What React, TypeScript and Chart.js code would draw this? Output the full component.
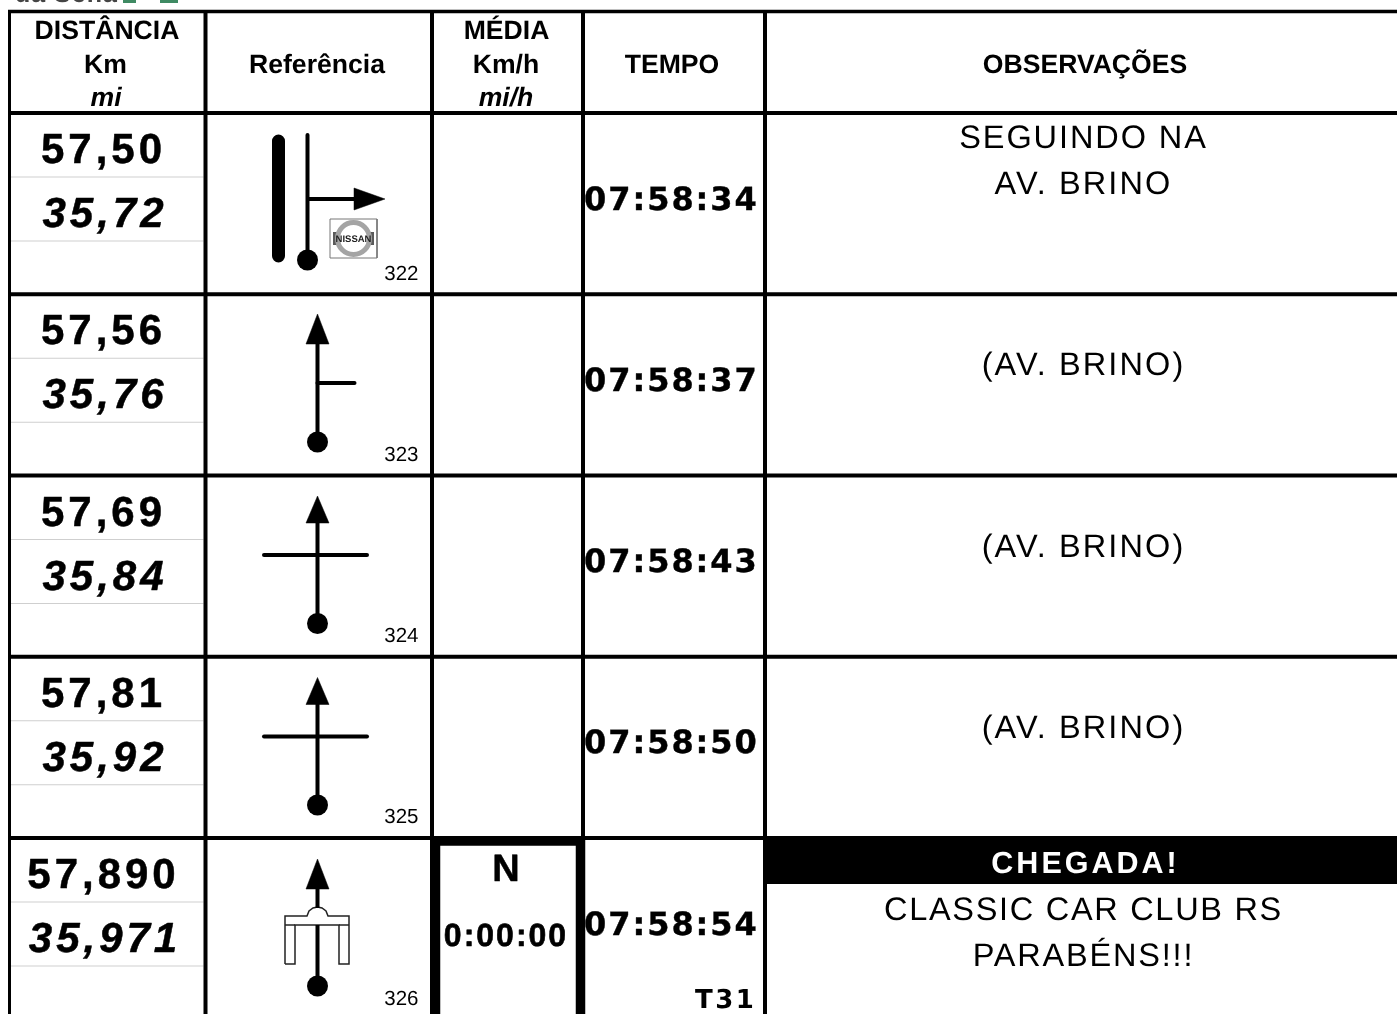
import React, { useEffect, useRef } from "react";
import { Chart, registerables } from "chart.js";

Chart.register(...registerables);

// ---- table content ----
const headerDist = ["DISTÂNCIA", "Km", "mi"];
const headerRef = "Referência";
const headerMedia = ["MÉDIA", "Km/h", "mi/h"];
const headerTempo = "TEMPO";
const headerObs = "OBSERVAÇÕES";
const kmValues = ["57,50", "57,56", "57,69", "57,81", "57,890"];
const miValues = ["35,72", "35,76", "35,84", "35,92", "35,971"];
const timeValues = ["07:58:34", "07:58:37", "07:58:43", "07:58:50", "07:58:54"];
const refCodes = ["322", "323", "324", "325", "326"];
const obsLine1 = ["SEGUINDO NA", "", "", "", "CLASSIC CAR CLUB RS"];
const obsLine2 = ["AV. BRINO", "(AV. BRINO)", "(AV. BRINO)", "(AV. BRINO)", "PARABÉNS!!!"];

// ---- table geometry in axis units ----
const rowTops = [113, 294.25, 475.5, 656.75, 838];
const colLines = [9.5, 205.5, 432, 583, 765];
const subRowLines = [64, 128];

type Pt = [number, number];
const black = "#000";

function seg(points: Pt[], width: number, color = black, opts: any = {}) {
  return {
    type: "scatter",
    data: points.map(([x, y]) => ({ x, y })),
    showLine: true,
    borderColor: color,
    borderWidth: width,
    borderCapStyle: opts.cap ?? "butt",
    borderJoinStyle: "miter",
    backgroundColor: opts.fillColor ?? color,
    fill: opts.fillColor ? "shape" : false,
    pointRadius: 0,
    tension: 0,
    order: opts.order ?? 1,
  };
}
function dot(x: number, y: number, r: number, fillColor = black, line = "transparent", lw = 0) {
  return {
    type: "scatter",
    data: [{ x, y }],
    showLine: false,
    pointStyle: "circle",
    pointRadius: r,
    pointBackgroundColor: fillColor,
    pointBorderColor: line,
    pointBorderWidth: lw,
  };
}
function upArrow(x: number, apex: number, base: number) {
  return seg([[x, apex], [x + 11.5, base], [x - 11.5, base], [x, apex]], 0.5, black, { fillColor: black });
}

function buildDatasets(): any[] {
  const d: any[] = [];
  // black finish band first
  d.push(seg([[765, 860.5], [1397, 860.5]], 47));
  // grid
  d.push(seg([[8, 11.5], [1397, 11.5]], 3.5));
  rowTops.forEach((y) => d.push(seg([[8, y], [1397, y]], 4)));
  colLines.forEach((x, i) => d.push(seg([[x, 10], [x, 1014]], i === 0 ? 3 : 4)));
  rowTops.forEach((y) =>
    subRowLines.forEach((o) => d.push(seg([[11, y + o], [203.5, y + o]], 1, "#cfcfcf")))
  );
  // N box
  d.push(seg([[435.5, 1014], [435.5, 841], [580.5, 841], [580.5, 1014]], 9.5));

  // row 1 glyph
  d.push(seg([[278.5, 141], [278.5, 256]], 13, black, { cap: "round" }));
  d.push(seg([[307.5, 135], [307.5, 260]], 4, black, { cap: "round" }));
  d.push(seg([[308, 199], [356, 199]], 4));
  d.push(seg([[354, 188], [385, 199], [354, 210], [354, 188]], 0.5, black, { fillColor: black }));
  d.push(dot(307.5, 260, 10.5));
  // nissan badge
  d.push(seg([[330, 219], [377, 219], [377, 258], [330, 258], [330, 219]], 1, "#777"));
  d.push(dot(353.5, 238.5, 16, "#fff", "#a4a4a4", 5));
  d.push(seg([[333, 238.5], [374, 238.5]], 13, "#5a5a5a"));
  d.push(seg([[334, 238.5], [373, 238.5]], 10, "#e4e4e4"));

  // row 2 glyph
  d.push(seg([[317.5, 340], [317.5, 442]], 4));
  d.push(seg([[317.5, 383], [354.5, 383]], 4, black, { cap: "round" }));
  d.push(upArrow(317.5, 314, 344));
  d.push(dot(317.5, 442, 10.5));

  // row 3 and 4 glyphs
  [0, 181.5].forEach((o) => {
    d.push(seg([[317.5, 520 + o], [317.5, 623 + o]], 4));
    d.push(seg([[264, 555 + o], [367, 555 + o]], 4, black, { cap: "round" }));
    d.push(upArrow(317.5, 496 + o, 523 + o));
    d.push(dot(317.5, 623.5 + o, 10.5));
  });

  // row 5 glyph
  d.push(seg([[317.5, 886], [317.5, 908]], 4));
  d.push(seg([[317.5, 925], [317.5, 986]], 4));
  d.push(upArrow(317.5, 859, 889));
  d.push(dot(317.5, 986, 10.5));
  const bridge: Pt[] = [
    [285, 964], [295, 964], [295, 925], [339, 925], [339, 964], [349, 964], [349, 916],
    [328, 916], [326, 911], [322, 908], [317.5, 907], [313, 908], [309, 911], [307, 916], [285, 916], [285, 964],
  ];
  d.push(seg(bridge, 1.5, "#222"));
  d.push(seg([[285, 925], [295, 925]], 1.5, "#222"));
  d.push(seg([[339, 925], [349, 925]], 1.5, "#222"));

  // clipped fragment at the top edge
  d.push(seg([[123, 1.5], [136, 1.5]], 3, "#3f8a63"));
  d.push(seg([[160, 1.5], [178, 1.5]], 3, "#3f8a63"));
  return d;
}

const SANS = '"Liberation Sans", Arial, sans-serif';
const DEJA = '"DejaVu Sans", Verdana, sans-serif';

const textPlugin = {
  id: "tableText",
  afterDatasetsDraw(chart: any) {
    const { ctx, scales } = chart;
    const put = (s: string, x: number, y: number, font: string, align = "center", spacing = 0, color = black, heavy = 0) => {
      if (!s) return;
      ctx.save();
      ctx.font = font;
      ctx.fillStyle = color;
      ctx.textAlign = align;
      ctx.textBaseline = "alphabetic";
      ctx.letterSpacing = spacing + "px";
      ctx.textRendering = "geometricPrecision";
      const px = scales.x.getPixelForValue(x);
      const py = scales.y.getPixelForValue(y);
      ctx.fillText(s, px, py);
      if (heavy > 0) {
        ctx.strokeStyle = color;
        ctx.lineWidth = heavy;
        ctx.lineJoin = "round";
        ctx.strokeText(s, px, py);
      }
      ctx.restore();
    };
    // clipped fragment
    put("da Sena", 15, 2, `bold 25px ${SANS}`, "left", 1, "#444");
    // headers
    const hb = `bold 26.6px ${SANS}`;
    const hi = `italic bold 26.6px ${SANS}`;
    put(headerDist[0], 107, 39, hb);
    put(headerDist[1], 105.5, 73, hb);
    put(headerDist[2], 106, 106, hi);
    put(headerRef, 317, 73, hb);
    put(headerMedia[0], 506.5, 39, hb);
    put(headerMedia[1], 506, 73, hb);
    put(headerMedia[2], 506, 106, hi);
    put(headerTempo, 672, 73, hb);
    put(headerObs, 1085, 73, hb);
    // rows
    rowTops.forEach((top, i) => {
      put(kmValues[i], 103.5, top + 50, `bold 42px ${SANS}`, "center", 4, black, 0.5);
      put(miValues[i], 105, top + 114, `italic bold 42px ${SANS}`, "center", 4, black, 0.5);
      put(refCodes[i], 418.5, top + 166.5, `20.5px ${SANS}`, "right");
      put(timeValues[i], 584, top + 96.5, `bold 32px ${DEJA}`, "left", 1.95, black, 0.4);
      if (i < 4) {
        put(obsLine1[i], 1083.5, top + 35, `32.5px ${SANS}`, "center", 1.9);
        put(obsLine2[i], 1083.5, top + 81, `32.5px ${SANS}`, "center", 2.1);
      }
    });
    put("CHEGADA!", 1085.5, 873, `bold 30.5px ${SANS}`, "center", 3, "#fff");
    put(obsLine1[4], 1083.5, 920, `32.5px ${SANS}`, "center", 1.7);
    put(obsLine2[4], 1083.5, 966, `32.5px ${SANS}`, "center", 1.8);
    put("N", 506, 881, `bold 38px ${SANS}`, "center", 0, black, 0.5);
    put("0:00:00", 506, 946, `bold 32px ${SANS}`, "center", 2, black, 0.6);
    put("T31", 695, 1008, `bold 26px ${DEJA}`, "left", 2.5);
    put("NISSAN", 353.5, 242, `bold 9.5px ${SANS}`, "center", 0, "#222");
  },
};

export default function App() {
  const ref = useRef<HTMLCanvasElement>(null);
  useEffect(() => {
    const chart = new Chart(ref.current!, {
      type: "scatter",
      data: { datasets: buildDatasets() },
      options: {
        animation: false,
        responsive: false,
        devicePixelRatio: 1,
        layout: { padding: 0, autoPadding: false },
        plugins: { legend: { display: false }, tooltip: { enabled: false } },
        scales: {
          x: { type: "linear", min: 0, max: 1397, display: false },
          y: { type: "linear", min: 0, max: 1014, reverse: true, display: false },
        },
      },
      plugins: [textPlugin],
    } as any);
    return () => chart.destroy();
  }, []);
  return (
    <canvas
      ref={ref}
      width={1397}
      height={1014}
      style={{ position: "fixed", left: 0, top: 0, width: 1397, height: 1014, display: "block", background: "#fff" }}
    />
  );
}
